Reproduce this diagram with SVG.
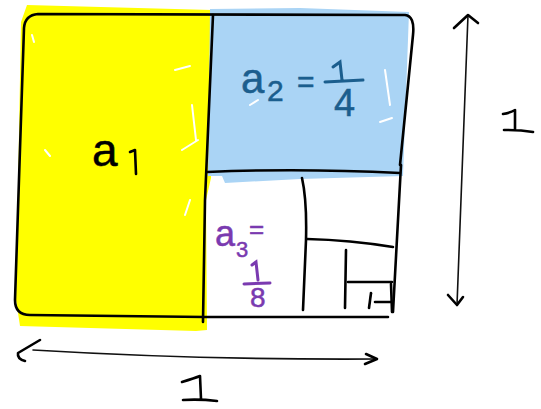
<svg xmlns="http://www.w3.org/2000/svg" width="541" height="409" viewBox="0 0 541 409">
<style>
.ink{fill:none;stroke:#000;stroke-width:2.6;stroke-linecap:round;stroke-linejoin:round}
.thin{fill:none;stroke:#111;stroke-width:1.6;stroke-linecap:round;stroke-linejoin:round}
.hl{fill:none;stroke:#fff;stroke-width:2;stroke-linecap:round}
.t{font-family:"Liberation Sans",Arial,sans-serif;stroke-width:0.5}
.blue{fill:#1b5e8e;stroke:#1b5e8e}
.purple{fill:#7a3ab0;stroke:#7a3ab0}
.blk{fill:#000;stroke:#000}
</style>
<rect width="541" height="409" fill="#fff"/>
<g id="fills">
<path d="M 27,5 L 212,10 L 211,178 L 206,200 L 207,330 L 196,331 L 20,326 L 16,300 L 21,22 Z" fill="#ffff00"/>
<path d="M 210,9 L 300,8 L 409,12 L 403,176 L 300,179 L 225,183 L 222,176 L 208,176 Z" fill="#aad4f5"/>
<path class="hl" d="M 32,35 L 34,42 M 175,70 L 190,66 M 192,105 L 196,140 M 182,150 L 198,140 M 45,150 L 50,156 M 190,200 L 185,215 M 250,105 L 258,100"/>
<path class="hl" d="M 385,70 L 390,105 M 380,122 L 392,118"/>
</g>
<g id="grid">
<path class="ink" d="M 400,165 L 413,35 Q 415,16 405,15 L 38,14 Q 25,15 24,28 L 15,300 Q 15,315 30,315 L 205,317 L 388,317"/>
<path class="ink" d="M 401,165 L 393,312"/>
<path class="ink" d="M 213,15 L 205,200 L 203,322"/>
<path class="ink" d="M 207,172 Q 300,168 400,173"/>
<path class="ink" d="M 302,178 Q 307,200 306,240 L 303,310"/>
<path class="ink" d="M 307,239 Q 350,240 393,247"/>
<path class="ink" d="M 346,250 L 345,308"/>
<path class="ink" d="M 348,282 L 392,282"/>
<path class="ink" d="M 371,293 L 369,308"/>
<path class="ink" d="M 375,302 L 391,302 M 391,284 L 392,312"/>
</g>
<g id="labels">
<text class="t blk" x="92" y="166" font-size="46">a</text>
<path class="ink" d="M 130,152 L 135,150 L 136,174"/>
<text class="t blue" x="241" y="93" font-size="42">a</text>
<text class="t blue" x="267" y="101" font-size="30">2</text>
<text class="t blue" x="297" y="92" font-size="30">=</text>
<path fill="none" stroke="#1b5e8e" stroke-width="3" stroke-linecap="round" d="M 333,67 L 340,62 L 342,80 M 325,82 L 363,80"/>
<text class="t blue" x="334" y="116" font-size="38">4</text>
<text class="t purple" x="215" y="246" font-size="36">a</text>
<text class="t purple" x="236" y="257" font-size="22">3</text>
<text class="t purple" x="249" y="238" font-size="26">=</text>
<path fill="none" stroke="#7a3ab0" stroke-width="3" stroke-linecap="round" d="M 252,265 L 256,262 L 258,280 M 244,284 L 270,283"/>
<text class="t purple" x="250" y="307" font-size="28">8</text>
</g>
<g id="dims">
<path class="thin" d="M 33,350 Q 200,360 377,359"/>
<path class="ink" d="M 40,340 L 18,353 Q 17,359 25,361"/>
<path class="ink" d="M 366,354 L 377,359 L 365,364"/>
<path class="thin" d="M 468,15 L 457,305"/>
<path class="ink" d="M 454,28 L 468,15 L 478,23"/>
<path class="ink" d="M 448,295 L 457,305 L 463,297"/>
<path class="ink" d="M 182,382 Q 195,378 200,376 L 201,399 M 183,400 Q 200,399 217,401"/>
<path class="ink" d="M 503,114 Q 510,113 515,110 L 515,129 M 504,130 Q 520,130 533,132"/>
</g>
</svg>
